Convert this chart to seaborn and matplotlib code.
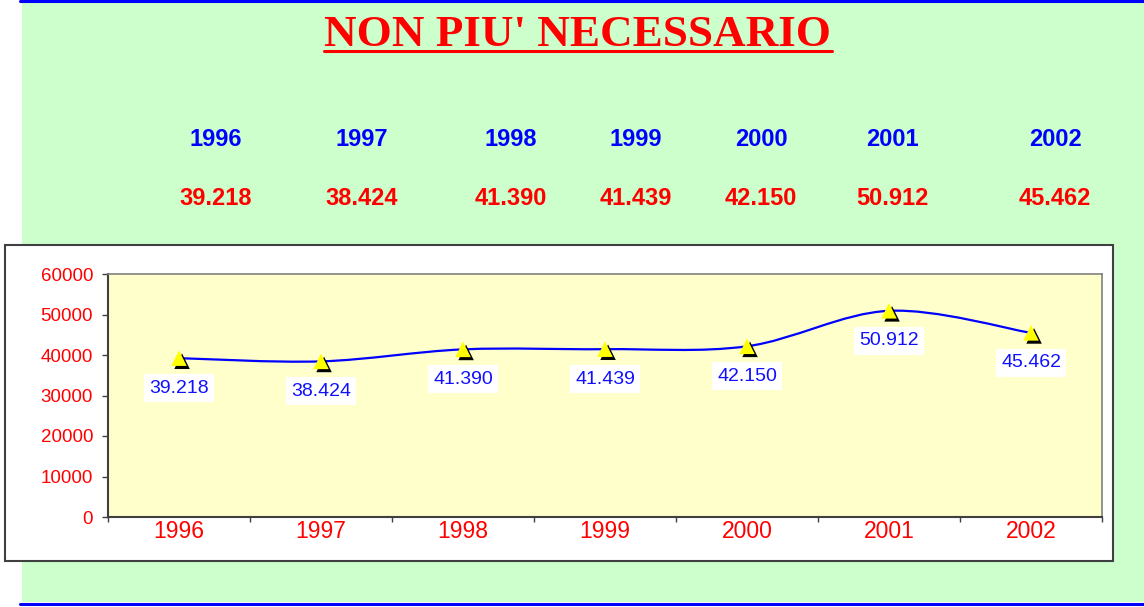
import numpy as np
import pandas as pd
import matplotlib
matplotlib.use('Agg')
import matplotlib.pyplot as plt
import matplotlib.transforms as mtransforms
from matplotlib.path import Path
from matplotlib.patches import PathPatch, Rectangle
from matplotlib.lines import Line2D
import seaborn as sns

# data
years = ['1996', '1997', '1998', '1999', '2000', '2001', '2002']
values = [39218, 38424, 41390, 41439, 42150, 50912, 45462]
value_labels = ['39.218', '38.424', '41.390', '41.439', '42.150', '50.912', '45.462']
y_ticks = [0, 10000, 20000, 30000, 40000, 50000, 60000]

# pixel centres of the header columns above the chart
header_x = [216, 362, 511, 636, 761, 892, 1055]

df = pd.DataFrame({'year': years, 'value': values, 'pos': np.arange(len(years))})

sns.set_style('white')
plt.rcParams['font.family'] = ['Liberation Sans', 'DejaVu Sans']

W, H = 1144, 607
fig = plt.figure(figsize=(W / 100, H / 100), dpi=100)
fig.patch.set_facecolor('white')


def fx(px):
    return px / W


def fy(py):
    return 1 - py / H


# green page with blue rules
fig.add_artist(Rectangle((fx(22), fy(602)), 1 - fx(22), fy(2) - fy(602), transform=fig.transFigure,
                         facecolor='#CCFFCC', edgecolor='none', zorder=-3))
fig.add_artist(Line2D([fx(20), 1], [fy(1), fy(1)], transform=fig.transFigure, color='#0000FF', lw=2.2, zorder=-2))
fig.add_artist(Line2D([fx(20), 1], [fy(603.5), fy(603.5)], transform=fig.transFigure, color='#0000FF', lw=2.2, zorder=-2))

# title, underlined
fig.text(fx(578), fy(45.5), "NON PIU' NECESSARIO", ha='center', va='baseline', fontsize=32.5,
         fontweight='bold', color='red', family=['Liberation Serif', 'DejaVu Serif'])
fig.add_artist(Line2D([fx(324), fx(832)], [fy(50.5), fy(50.5)], transform=fig.transFigure, color='red', lw=2.2))

# header table
for x, yr, lbl in zip(header_x, years, value_labels):
    fig.text(fx(x), fy(146), yr, ha='center', va='baseline', fontsize=17, fontweight='bold', color='#0000FF')
    fig.text(fx(x), fy(205), lbl, ha='center', va='baseline', fontsize=17, fontweight='bold', color='red')

# white chart box
fig.add_artist(Rectangle((fx(5), fy(561)), fx(1113) - fx(5), fy(245) - fy(561), transform=fig.transFigure,
                         facecolor='white', edgecolor='#404040', lw=1.5, zorder=-1))

ax = fig.add_axes([fx(108), fy(517), fx(1102) - fx(108), fy(274) - fy(517)])
ax.set_facecolor('#FFFFCC')

# smoothed line (Catmull-Rom style bezier through the points)
pts = np.column_stack([df['pos'], df['value']]).astype(float)
ext = np.vstack([pts[0], pts, pts[-1]])
verts = [tuple(pts[0])]
codes = [Path.MOVETO]
for i in range(len(pts) - 1):
    p_prev, p0, p1, p_next = ext[i], ext[i + 1], ext[i + 2], ext[i + 3]
    c1 = p0 + (p1 - p_prev) / 6
    c2 = p1 - (p_next - p0) / 6
    verts += [tuple(c1), tuple(c2), tuple(p1)]
    codes += [Path.CURVE4] * 3
ax.add_patch(PathPatch(Path(verts, codes), facecolor='none', edgecolor='#0000FF', lw=1.6, zorder=2))

# markers with a black drop shadow
shadow = mtransforms.offset_copy(ax.transData, fig=fig, x=2.2, y=-2.2, units='points')
sns.scatterplot(data=df, x='pos', y='value', marker='^', s=125, color='black', edgecolor='none',
                transform=shadow, ax=ax, zorder=3, legend=False)
sns.scatterplot(data=df, x='pos', y='value', marker='^', s=125, color='#FFFF00', edgecolor='none',
                ax=ax, zorder=4, legend=False)

for p, v, lbl in zip(df['pos'], df['value'], value_labels):
    ax.annotate(lbl, (p, v), xytext=(0, -21.5), textcoords='offset points', ha='center', va='center',
                fontsize=14, color='#1010FF', zorder=5,
                bbox=dict(boxstyle='square,pad=0.28', fc='white', ec='none'))

ax.set_xlim(-0.5, len(years) - 0.5)
ax.set_ylim(0, 60000)
ax.set_xlabel('')
ax.set_ylabel('')

ax.set_yticks(y_ticks)
ax.set_yticklabels([str(t) for t in y_ticks])
ax.tick_params(axis='y', direction='out', length=4.3, width=1, color='#404040', labelcolor='red',
               labelsize=13.5, pad=6.5, left=True)

ax.set_xticks(df['pos'])
ax.set_xticklabels(years)
ax.tick_params(axis='x', which='major', length=0, labelcolor='red', labelsize=16.5, pad=2)
ax.set_xticks(np.arange(-0.5, len(years), 1), minor=True)
ax.tick_params(axis='x', which='minor', direction='out', length=3.6, width=1, color='#404040', bottom=True)

for side in ['left', 'bottom']:
    ax.spines[side].set_color('#404040')
    ax.spines[side].set_linewidth(1.5)
for side in ['top', 'right']:
    ax.spines[side].set_color('#808080')
    ax.spines[side].set_linewidth(1.2)
    ax.spines[side].set_visible(True)

fig.savefig('out.png', dpi=100)
